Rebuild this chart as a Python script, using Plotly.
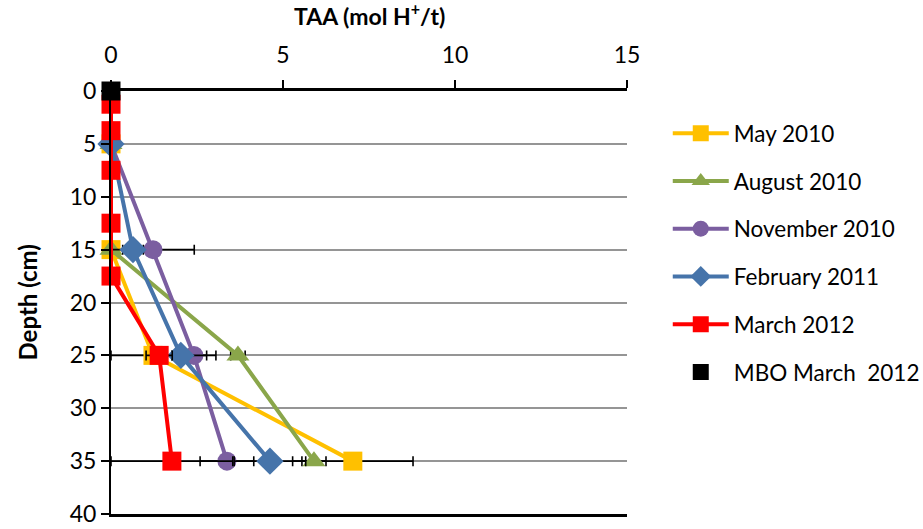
import plotly.graph_objects as go

# TAA profiles by sampling date (depth in cm, TAA in mol H+/t)
may_depth = [5, 15, 25, 35]
may_taa = [0.0, 0.0, 1.22, 7.03]
may_err = [0.0, 0.0, 1.22, 1.75]

aug_depth = [5, 15, 25, 35]
aug_taa = [0.0, 0.0, 3.69, 5.9]
aug_err = [0.0, 0.0, 0.21, 0.35]

nov_depth = [5, 15, 25, 35]
nov_taa = [0.0, 1.22, 2.41, 3.37]
nov_err = [0.0, 1.2, 0.64, 0.78]

feb_depth = [5, 15, 25, 35]
feb_taa = [0.0, 0.64, 2.03, 4.62]
feb_err = [0.0, 0.3, 0.75, 1.04]

mar_depth = [1.25, 3.75, 7.5, 12.5, 17.5, 25, 35]
mar_taa = [0.0, 0.0, 0.0, 0.0, 0.0, 1.4, 1.77]
mar_err = [0.0, 0.0, 0.0, 0.0, 0.0, 0.38, 1.77]

mbo_depth = [0]
mbo_taa = [0.0]

x_ticks = [0, 5, 10, 15]
y_ticks = [0, 5, 10, 15, 20, 25, 30, 35, 40]
x_range = [0, 15]

FONT = "Lato"

series = [
    ("May 2010", may_taa, may_depth, may_err, "#FFC000", "square", 19),
    ("August 2010", aug_taa, aug_depth, aug_err, "#8AA64A", "triangle-up", 20),
    ("November 2010", nov_taa, nov_depth, nov_err, "#7B5EA0", "circle", 19),
    ("February 2011", feb_taa, feb_depth, feb_err, "#4674AA", "diamond", 21),
    ("March 2012", mar_taa, mar_depth, mar_err, "#FF0000", "square", 19),
]

fig = go.Figure()
for i, (name, xs, ys, errs, color, symbol, msize) in enumerate(series):
    fig.add_trace(go.Scatter(
        x=xs, y=ys, name=name, mode="lines+markers",
        line=dict(color=color, width=4),
        marker=dict(symbol=symbol, size=msize, color=color, line=dict(width=0)),
        error_x=dict(type="data", array=errs, visible=True,
                     color="black", thickness=1.6, width=5),
        cliponaxis=False, legendgroup=str(i),
    ))

fig.add_trace(go.Scatter(
    x=mbo_taa, y=mbo_depth, name="MBO March  2012", mode="markers",
    marker=dict(symbol="square", size=19, color="black"),
    cliponaxis=False, legendgroup="5",
))

fig.update_layout(
    width=923, height=529,
    margin=dict(l=111, r=296, t=91, b=15, autoexpand=False),
    plot_bgcolor="white", paper_bgcolor="white",
    font=dict(family=FONT, size=22.5, color="black"),
    showlegend=True,
    legend=dict(x=1.079, y=1.0 - (112 - 91) / 423, xanchor="left", yanchor="top",
                font=dict(family=FONT, size=22.5), itemwidth=56,
                tracegroupgap=15.5, bgcolor="rgba(0,0,0,0)"),
    # main top axis: line and short outside ticks
    xaxis=dict(side="top", range=x_range, tickvals=x_ticks,
               showline=True, linecolor="black", linewidth=2.5, mirror=True,
               ticks="outside", ticklen=8, tickwidth=2, tickcolor="black",
               showticklabels=False,
               showgrid=False, zeroline=False, automargin=False),
    # companion axis carrying the tick labels a little further out
    xaxis2=dict(side="top", overlaying="x", range=x_range, tickvals=x_ticks,
                showline=False, ticks="outside", ticklen=18,
                tickcolor="rgba(0,0,0,0)", showgrid=False, zeroline=False,
                automargin=False, tickfont=dict(family=FONT, size=23)),
    yaxis=dict(range=[40, 0], tickvals=y_ticks,
               showline=True, linecolor="black", linewidth=2,
               ticks="outside", ticklen=8, tickwidth=2, tickcolor="black",
               automargin=False,
               showgrid=True, gridcolor="#959595", gridwidth=2,
               zeroline=False, tickfont=dict(family=FONT, size=23)),
    annotations=[
        dict(text="<b>TAA (mol H<sup>+</sup>/t)</b>", xref="paper", yref="paper",
             x=0.5, y=1 + (91 - 15) / 423, showarrow=False,
             xanchor="center", yanchor="middle", font=dict(family=FONT, size=23)),
        dict(text="<b>Depth (cm)</b>", xref="paper", yref="paper",
             x=(27 - 111) / 516, y=0.5, showarrow=False, textangle=-90,
             xanchor="center", yanchor="middle", font=dict(family=FONT, size=24)),
    ],
)

# an empty trace keeps the companion axis drawn
fig.add_trace(go.Scatter(x=[None], y=[None], xaxis="x2", yaxis="y",
                         showlegend=False, hoverinfo="skip"))

fig.write_html("out.html")
